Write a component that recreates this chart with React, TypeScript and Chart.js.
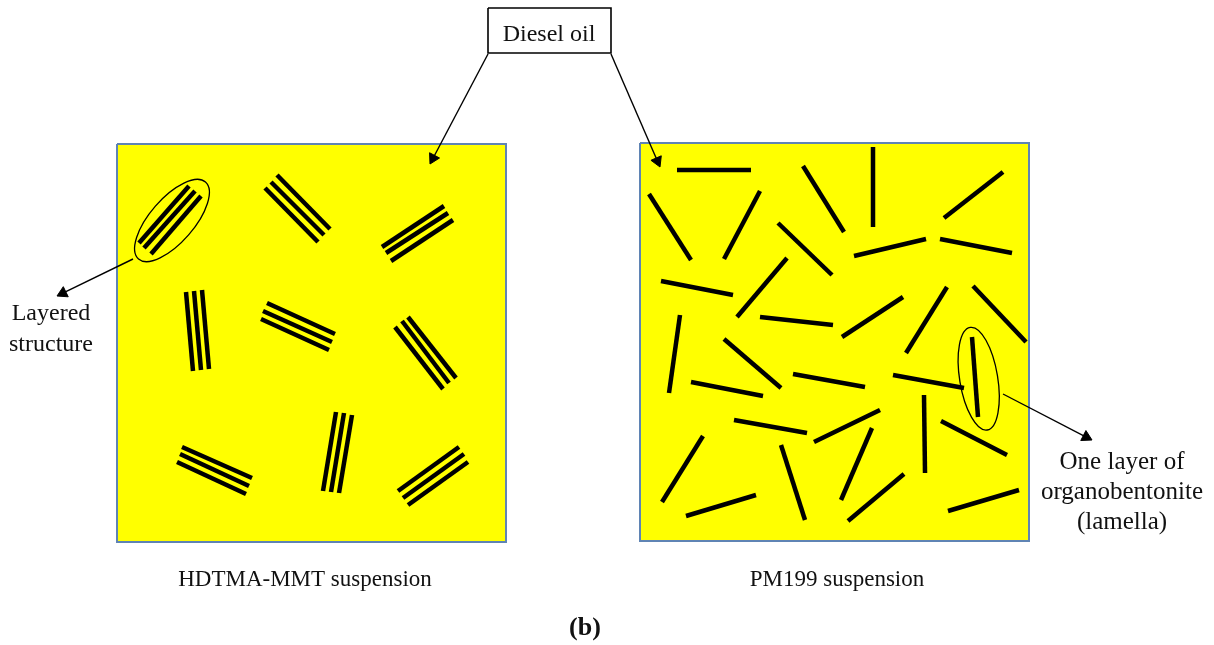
import React, { useEffect, useRef } from 'react';
import { Chart, registerables } from 'chart.js';

Chart.register(...registerables);

// ---------- data (diagram coordinates, 1 unit = 1 px of the 1214x645 frame) ----------
const frameX = [0, 1214];
const frameY = [0, 645];

// suspension boxes: [xLeft, xRight], [yTop, yBottom]
const boxXRanges = [[117, 506], [640, 1029]];
const boxYRanges = [[144, 542], [143, 541]];

// HDTMA-MMT: stacks of three parallel layers, each layer [x1, y1, x2, y2]
const layeredStacks = [
  [[139, 243, 189, 186], [144, 248, 195, 191], [151, 254, 201, 196]],
  [[277, 175, 330, 229], [271, 182, 324, 235], [265, 188, 318, 242]],
  [[382, 247, 444, 206], [386, 253, 448, 213], [391, 261, 453, 220]],
  [[186, 292, 193, 371], [194, 291, 201, 370], [202, 290, 209, 369]],
  [[267, 303, 335, 334], [263, 311, 332, 342], [261, 319, 329, 350]],
  [[408, 317, 456, 378], [402, 321, 449, 383], [395, 327, 443, 389]],
  [[182, 447, 252, 478], [180, 454, 249, 486], [177, 462, 246, 494]],
  [[336, 412, 323, 491], [344, 413, 331, 492], [352, 415, 339, 493]],
  [[459, 447, 398, 491], [464, 454, 403, 498], [468, 462, 408, 505]],
];

// PM199: single dispersed lamellae [x1, y1, x2, y2]
const lamellae = [
  [677, 170, 751, 170], [649, 194, 691, 260], [724, 259, 760, 191],
  [803, 166, 844, 232], [873, 147, 873, 227], [944, 218, 1003, 172],
  [778, 223, 832, 275], [854, 256, 926, 239], [940, 239, 1012, 253],
  [661, 281, 733, 295], [737, 317, 787, 258], [760, 317, 833, 325],
  [842, 337, 903, 297], [906, 353, 947, 287], [973, 286, 1026, 342],
  [680, 315, 669, 393], [724, 339, 781, 388], [691, 382, 763, 396],
  [793, 374, 865, 387], [893, 375, 964, 388], [972, 337, 978, 417],
  [734, 420, 807, 433], [814, 442, 880, 410], [924, 395, 925, 473],
  [941, 421, 1007, 455], [703, 436, 662, 502], [781, 445, 805, 520],
  [872, 428, 841, 500], [686, 516, 756, 495], [848, 521, 904, 474],
  [948, 511, 1019, 490],
];

// "Diesel oil" label box [xLeft, yTop, xRight, yBottom]
const dieselBox = [488, 8, 611, 53];

// arrows [xFrom, yFrom, xTip, yTip]
const arrows = [
  [488, 54, 430, 164],
  [611, 54, 660, 167],
  [133, 259, 57, 296],
  [1003, 394, 1092, 440],
];

// highlight ellipses [cx, cy, semiMajor, semiMinor, rotationDeg]
const ellipses = [
  [172, 220.5, 51, 22, -49],
  [978.7, 378.7, 52, 19, 80.6],
];

// texts
const textStrings = [
  'Diesel oil',
  'Layered',
  'structure',
  'One layer of',
  'organobentonite',
  '(lamella)',
  'HDTMA-MMT suspension',
  'PM199 suspension',
  '(b)',
];

// ---------- layout / style (kept apart from the data) ----------
const textAnchors = [
  [549, 41], [51, 320], [51, 351], [1122, 469], [1122, 499], [1122, 529],
  [305, 586], [837, 586], [585, 635],
];
const textFonts = [
  '24px', '24px', '24px', '25px', '25px', '25px', '23px', '23px', 'bold 26px',
];
const SERIF = "'Liberation Serif', 'Times New Roman', serif";
const YELLOW = '#ffff00';
const BOX_BORDER = '#5f84b4';
const LAYER_WIDTH = 4.5;
const ARROW_HEAD = 6.5;

function seg(s: number[]) {
  return [{ x: s[0], y: s[1] }, { x: s[2], y: s[3] }];
}

function buildDatasets() {
  const ds: any[] = [];
  // box fills + borders
  boxXRanges.forEach((xr, i) => {
    const yr = boxYRanges[i];
    ds.push({
      data: [{ x: xr[0], y: yr[0] }, { x: xr[1], y: yr[0] }],
      borderWidth: 0,
      pointRadius: 0,
      fill: { value: yr[1] },
      backgroundColor: YELLOW,
      order: 10,
    });
    ds.push({
      data: [
        { x: xr[0], y: yr[0] }, { x: xr[1], y: yr[0] }, { x: xr[1], y: yr[1] },
        { x: xr[0], y: yr[1] }, { x: xr[0], y: yr[0] },
      ],
      borderColor: BOX_BORDER,
      borderWidth: 2,
      pointRadius: 0,
      fill: false,
      order: 9,
      borderJoinStyle: 'miter',
    });
  });
  // layered stacks
  layeredStacks.forEach((stack) => {
    stack.forEach((s) => {
      ds.push({
        data: seg(s), borderColor: '#000', borderWidth: LAYER_WIDTH,
        pointRadius: 0, fill: false, borderCapStyle: 'butt', order: 5,
      });
    });
  });
  // lamellae
  lamellae.forEach((s) => {
    ds.push({
      data: seg(s), borderColor: '#000', borderWidth: LAYER_WIDTH,
      pointRadius: 0, fill: false, borderCapStyle: 'butt', order: 5,
    });
  });
  // diesel box
  const b = dieselBox;
  ds.push({
    data: [
      { x: b[0], y: b[1] }, { x: b[2], y: b[1] }, { x: b[2], y: b[3] },
      { x: b[0], y: b[3] }, { x: b[0], y: b[1] },
    ],
    borderColor: '#000', borderWidth: 1.6, pointRadius: 0, fill: false,
    borderJoinStyle: 'miter', order: 4,
  });
  // arrows
  arrows.forEach((a) => {
    const dx = a[2] - a[0];
    const dy = a[3] - a[1];
    const len = Math.hypot(dx, dy);
    const ux = dx / len;
    const uy = dy / len;
    const rot = (Math.atan2(ux, -uy) * 180) / Math.PI;
    ds.push({
      data: [
        { x: a[0], y: a[1] },
        { x: a[2] - ux * ARROW_HEAD, y: a[3] - uy * ARROW_HEAD },
      ],
      borderColor: '#000', borderWidth: 1.4, fill: false,
      pointStyle: 'triangle', pointRadius: [0, ARROW_HEAD],
      pointRotation: [0, rot], pointBackgroundColor: '#000',
      pointBorderColor: '#000', pointBorderWidth: 1, order: 3,
    });
  });
  return ds;
}

const decorPlugin = {
  id: 'decor',
  afterDatasetsDraw(chart: any) {
    const { ctx, scales } = chart;
    const sx = scales.x;
    const sy = scales.y;
    ctx.save();
    // ellipses
    ctx.strokeStyle = '#000';
    ctx.lineWidth = 1.3;
    ellipses.forEach((e) => {
      const cx = sx.getPixelForValue(e[0]);
      const cy = sy.getPixelForValue(e[1]);
      const rx = Math.abs(sx.getPixelForValue(e[0] + e[2]) - cx);
      const ry = Math.abs(sy.getPixelForValue(e[1] + e[3]) - cy);
      ctx.beginPath();
      ctx.ellipse(cx, cy, rx, ry, (e[4] * Math.PI) / 180, 0, Math.PI * 2);
      ctx.stroke();
    });
    // texts
    ctx.fillStyle = '#111';
    ctx.textAlign = 'center';
    ctx.textBaseline = 'alphabetic';
    textStrings.forEach((t, i) => {
      ctx.font = `${textFonts[i]} ${SERIF}`;
      ctx.fillText(t, sx.getPixelForValue(textAnchors[i][0]), sy.getPixelForValue(textAnchors[i][1]));
    });
    ctx.restore();
  },
};

export default function App() {
  const ref = useRef<HTMLCanvasElement | null>(null);
  useEffect(() => {
    if (!ref.current) return;
    const chart = new Chart(ref.current, {
      type: 'line',
      data: { datasets: buildDatasets() },
      options: {
        animation: false,
        responsive: false,
        devicePixelRatio: 1,
        layout: { padding: 0, autoPadding: false },
        events: [],
        plugins: {
          legend: { display: false },
          tooltip: { enabled: false },
          title: { display: false },
        },
        scales: {
          x: { type: 'linear', min: frameX[0], max: frameX[1], display: false },
          y: { type: 'linear', min: frameY[0], max: frameY[1], reverse: true, display: false },
        },
      } as any,
      plugins: [decorPlugin],
    });
    return () => chart.destroy();
  }, []);
  return (
    <div style={{ position: 'fixed', left: 0, top: 0, width: 1214, height: 645, background: '#fff' }}>
      <canvas ref={ref} width={1214} height={645} style={{ display: 'block' }} />
    </div>
  );
}
